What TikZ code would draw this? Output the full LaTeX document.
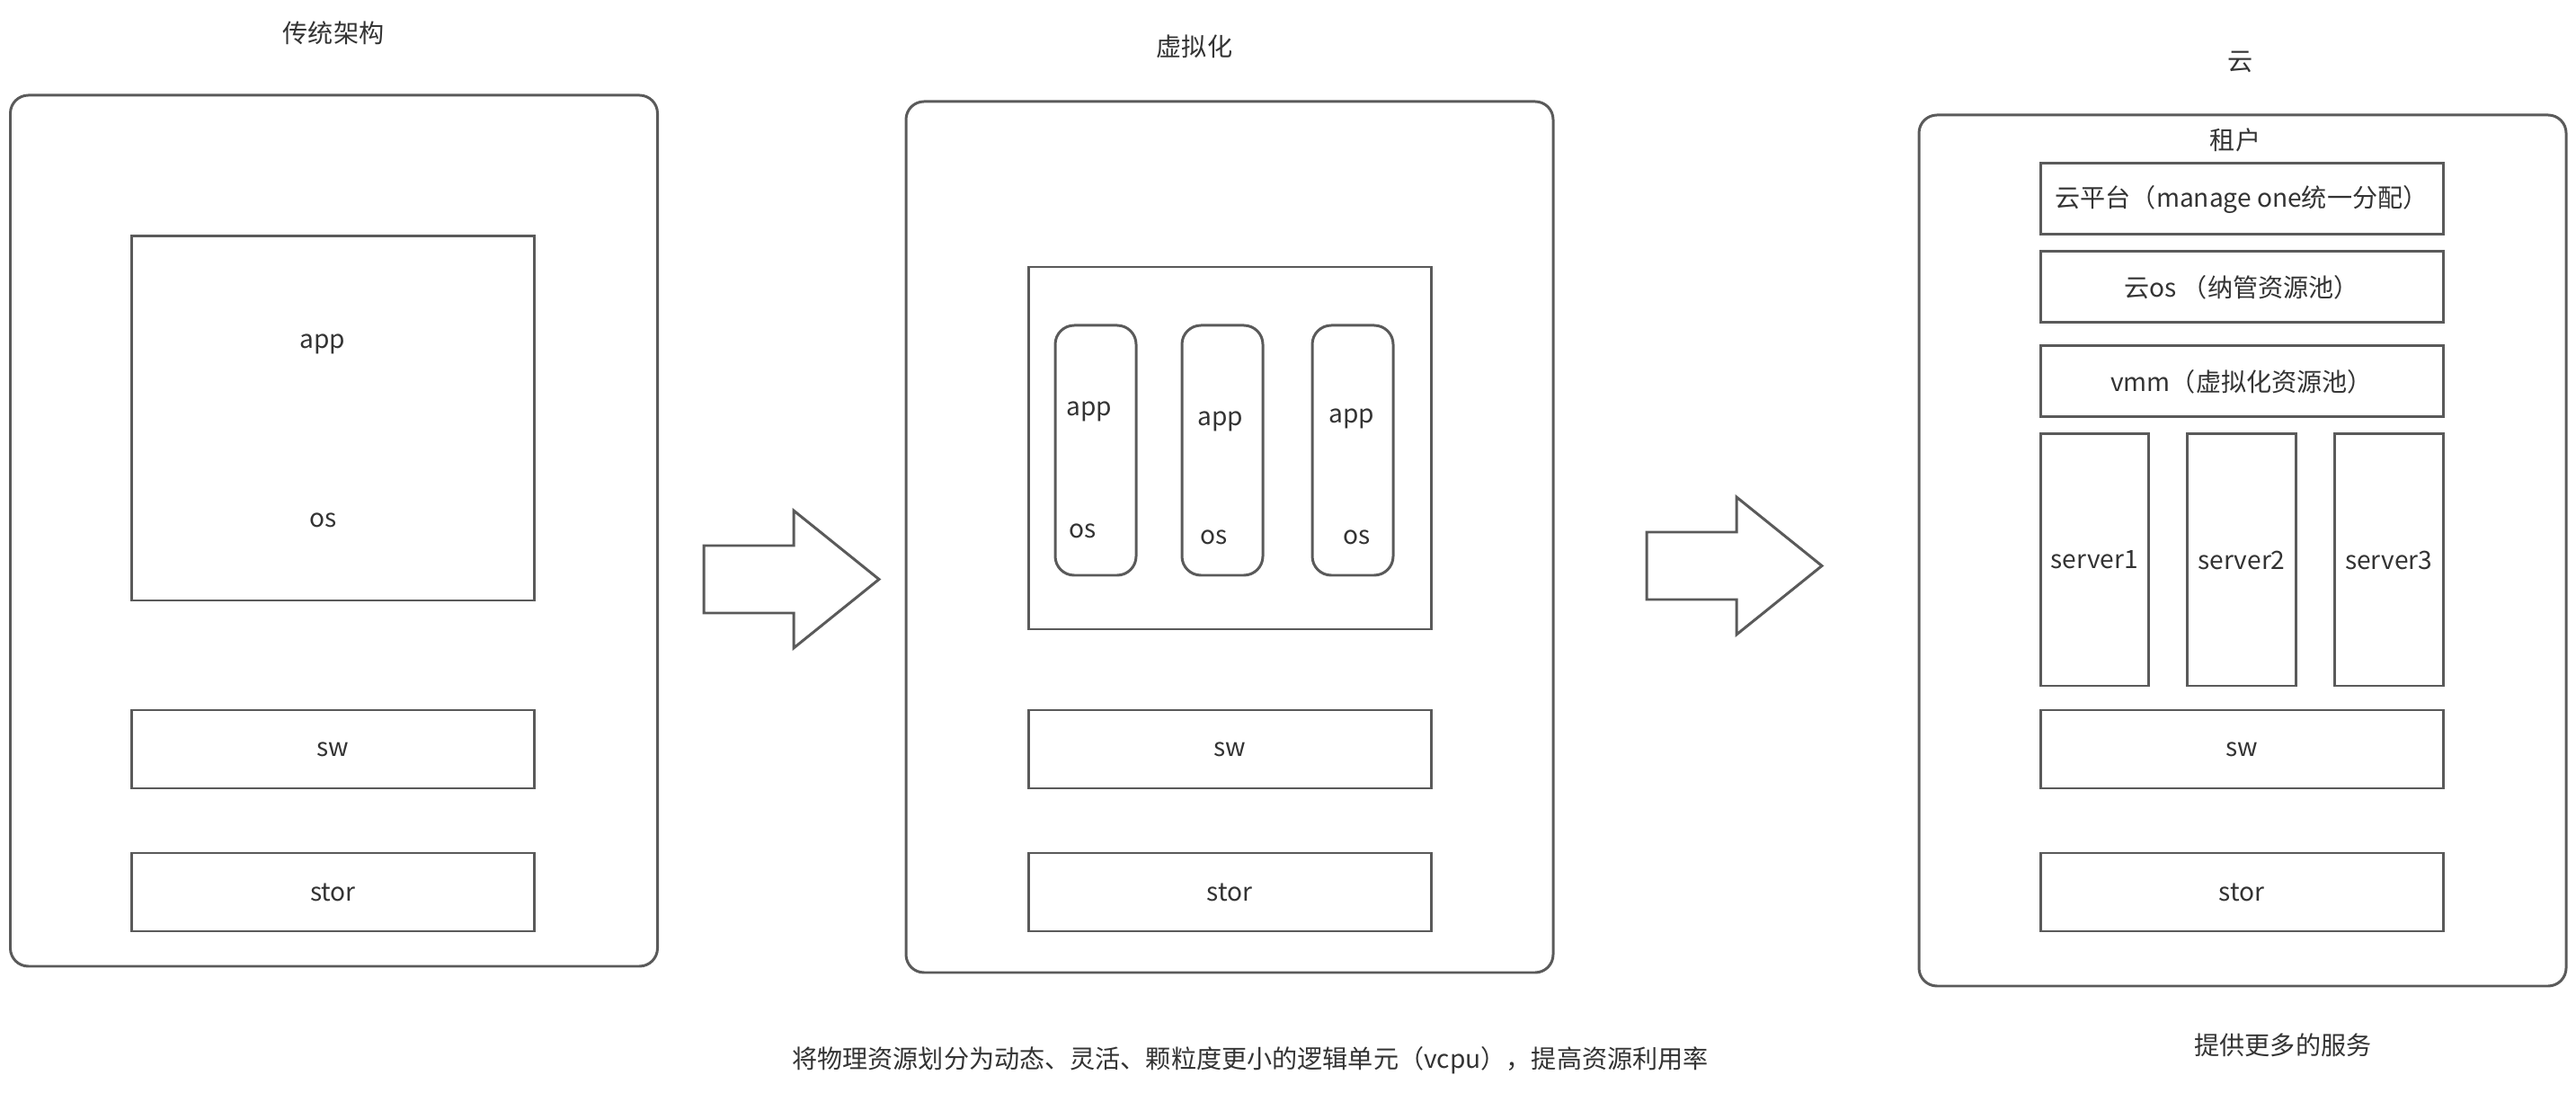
\documentclass[tikz,border=0pt]{standalone}
\usepackage{fontspec}
\setmainfont{Noto Sans CJK SC}
\usetikzlibrary{positioning}
\definecolor{linegray}{HTML}{5A5A5A}
\definecolor{textgray}{HTML}{333333}

\begin{document}
\begin{tikzpicture}[
		font=\fontsize{8pt}{9.6pt}\selectfont, text=textgray,
		panel/.style={rectangle,rounded corners=5.7pt,draw=linegray,line width=0.85pt,
			outer sep=0pt,minimum width=7.2cm,minimum height=9.69cm},
		layer/.style={rectangle,draw=linegray,line width=0.85pt,outer sep=0pt,
			minimum width=4.48cm,minimum height=0.87cm},
		vmbox/.style={rectangle,rounded corners=6pt,draw=linegray,line width=0.85pt,
			outer sep=0pt,minimum width=0.9cm,minimum height=2.78cm},
		server/.style={rectangle,draw=linegray,line width=0.85pt,outer sep=0pt,
			minimum width=1.18cm,minimum height=2.8cm},
		fatarrow/.style={draw=linegray,line width=0.85pt,fill=white}
		]
		\useasboundingbox (0,0) rectangle (28.66,-12.16);

		% traditional
		\node (T1) at (3.71,-0.37) {传统架构};
		\node[panel] (P1) at (3.715,-5.905) {};
		\node[layer] (SW1) at (3.705,-8.335) {sw};
		\node[layer, below=0.72cm of SW1] (ST1) {stor};
		\node[layer, minimum height=4.05cm, above=1.22cm of SW1] (H1) {};
		\node (APP1) at (3.59,-3.83) {app};
		\node (OS1) at (3.60,-5.79) {os};

		% virtualisation
		\node (T2) at (13.29,-0.52) {虚拟化};
		\node[panel] (P2) at (13.68,-5.975) {};
		\node[layer] (SW2) at (13.68,-8.335) {sw};
		\node[layer, below=0.72cm of SW2] (ST2) {stor};
		\node[layer, minimum height=4.03cm, above=0.9cm of SW2] (H2) {};
		\node[vmbox] (VM1) at (12.19,-5.01) {};
		\node[vmbox, right=0.51cm of VM1] (VM2) {};
		\node[vmbox, right=0.55cm of VM2] (VM3) {};
		\node (APP21) at (12.12,-4.58) {app};
		\node (OS21) at (12.05,-5.91) {os};
		\node (APP22) at (13.58,-4.69) {app};
		\node (OS22) at (13.51,-5.98) {os};
		\node (APP23) at (15.04,-4.66) {app};
		\node (OS23) at (15.10,-5.98) {os};
		\node (N2) at (13.91,-11.80) {将物理资源划分为动态、灵活、颗粒度更小的逻辑单元（vcpu），提高资源利用率};

		% cloud
		\node (T3) at (24.93,-0.69) {云};
		\node[panel] (P3) at (24.95,-6.125) {};
		\node (TEN) at (24.87,-1.56) {租户};
		\node[layer, minimum height=0.79cm] (CP) at (24.94,-2.215) {云平台（manage one统一分配）};
		\node[layer, minimum height=0.79cm, below=0.19cm of CP] (COS) {云os （纳管资源池）};
		\node[layer, minimum height=0.79cm, below=0.26cm of COS] (VMM) {vmm（虚拟化资源池）};
		\node[server, below=0.19cm of VMM.south west, anchor=north west] (S1) {server1};
		\node[server, below=0.19cm of VMM.south] (S2) {server2};
		\node[server, below=0.19cm of VMM.south east, anchor=north east] (S3) {server3};
		\node[layer, below=0.27cm of S2] (SW3) {sw};
		\node[layer, below=0.72cm of SW3] (ST3) {stor};
		\node (N3) at (25.40,-11.63) {提供更多的服务};

		% block arrows
		\coordinate (A1) at (7.83,-6.445);
		\coordinate (A2) at (18.32,-6.295);
		\draw[fatarrow] (A1) ++(0,0.375) -- ++(1,0) -- ++(0,0.39) -- ++(0.95,-0.765)
			-- ++(-0.95,-0.765) -- ++(0,0.39) -- ++(-1,0) -- cycle;
		\draw[fatarrow] (A2) ++(0,0.375) -- ++(1,0) -- ++(0,0.39) -- ++(0.95,-0.765)
			-- ++(-0.95,-0.765) -- ++(0,0.39) -- ++(-1,0) -- cycle;
	\end{tikzpicture}
\end{document}
